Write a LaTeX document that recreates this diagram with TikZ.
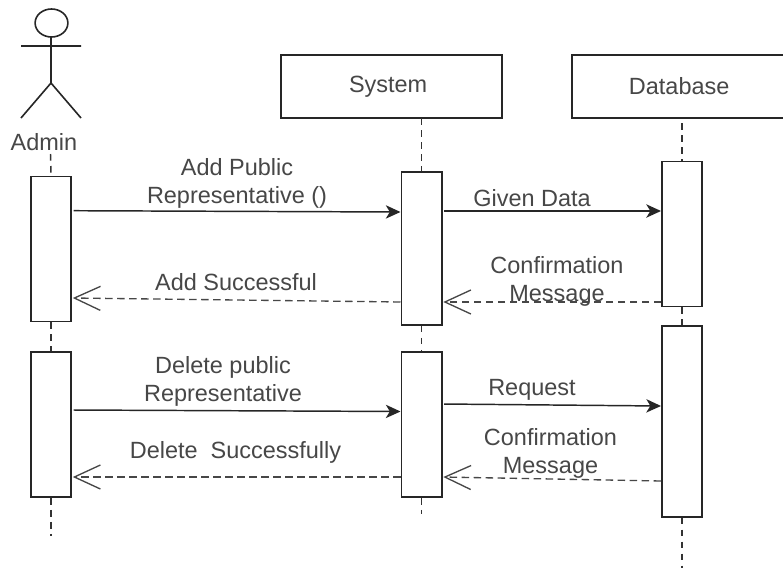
\documentclass[tikz,border=0pt]{standalone}
\usepackage{fontspec}
\setmainfont{Liberation Sans}
\usetikzlibrary{arrows.meta}
\tikzset{
  x=0.75pt,y=-0.75pt,
  px/.style={line width=1.2pt,draw=black!85},
  bar/.style={px,fill=white,minimum width=30.3pt,inner sep=0pt,rectangle},
  head/.style={px,fill=white,minimum width=165.75pt,minimum height=47.25pt,inner sep=0pt,text=black!72,font=\fontsize{17.6}{21}\selectfont},
  life/.style={line width=1.1pt,draw=black!80,dash pattern=on 5pt off 4pt},
  msg/.style={line width=1.1pt,draw=black!85,shorten <=1.2pt,-{Stealth[length=11pt,width=10pt,inset=3pt]}},
  ret/.style={line width=1pt,draw=black!72,dash pattern=on 5.5pt off 3.5pt,shorten >=0.6pt,-{Straight Barb[length=19.5pt,width=18pt,line width=1pt]}},
  lab/.style={text=black!72,font=\fontsize{17.6}{21}\selectfont,align=center,inner sep=0pt},
}
\begin{document}
\begin{tikzpicture}
\useasboundingbox (0,0) rectangle (783,568);
\fill[white] (0,0) rectangle (783,568);
% actor
\draw[px] (51.5,23) ellipse [x radius=12.3pt,y radius=10.5pt];
\draw[px] (51,37) -- (51,83) (21,46) -- (81,46) (21,118) -- (51,83) -- (81,118);
\node[lab] (admin) at (44,142) {Admin};
\coordinate (adminTop) at (50.5,154);
% heads
\node[head] (sys) at (391.5,86.5) {\hspace*{-5pt}\raisebox{-1.5pt}{System}};
\node[head] (db) at (682.5,86.5) {\hspace*{-5pt}Database};
% bars
\node[bar,minimum height=109pt] (a1) at (51,249) {};
\node[bar,minimum height=109pt] (a2) at (51,424.5) {};
\node[bar,minimum height=114.75pt] (s1) at (421.5,248.5) {};
\node[bar,minimum height=109pt] (s2) at (421.5,424.5) {};
\node[bar,minimum height=108.75pt] (d1) at (682,234) {};
\node[bar,minimum height=143pt] (d2) at (682,421.5) {};
\coordinate (aEnd) at (51,536);
\coordinate (sEnd) at (421.5,514);
\coordinate (dEnd) at (682,568);
\coordinate (sTop) at (421.5,118);
\coordinate (dTop) at (682,123);
% lifelines
\draw[life] (adminTop) -- (a1.north);
\draw[life] (a1.south) -- (a2.north);
\draw[life] (a2.south) -- (aEnd);
\draw[life] (sTop) -- (s1.north);
\draw[life] (s1.south) -- (s2.north);
\draw[life] (s2.south) -- (sEnd);
\draw[life] (dTop) -- (d1.north);
\draw[life] (d1.south) -- (d2.north);
\draw[life] (d2.south) -- (dEnd);
% messages
\draw[msg] (a1.east |- 0,210.7) -- (s1.west |- 0,212);
\draw[msg] (s1.east |- 0,211) -- (d1.west |- 0,211);
\draw[ret] (s1.west |- 0,302) -- (a1.east |- 0,298);
\draw[ret] (d1.west |- 0,302) -- (s1.east |- 0,302);
\draw[msg] (a2.east |- 0,410) -- (s2.west |- 0,411.5);
\draw[msg] (s2.east |- 0,404) -- (d2.west |- 0,406);
\draw[ret] (s2.west |- 0,477) -- (a2.east |- 0,477);
\draw[ret] (d2.west |- 0,481) -- (s2.east |- 0,477);
% labels
\node[lab] (l1) at (237,183.5) {Add Public\\Representative ()};
\node[lab] (l2) at (236,282) {Add Successful};
\node[lab] (l3) at (532,198) {Given Data};
\node[lab] (l4) at (557,281.5) {Confirmation\\Message};
\node[lab] (l5) at (223,381) {Delete public\\Representative};
\node[lab] (l6) at (235.5,452) {Delete\hspace{0.28em} Successfully};
\node[lab] (l7) at (532,390) {Request};
\node[lab] (l8) at (550.5,453.5) {Confirmation\\Message};
\end{tikzpicture}
\end{document}
